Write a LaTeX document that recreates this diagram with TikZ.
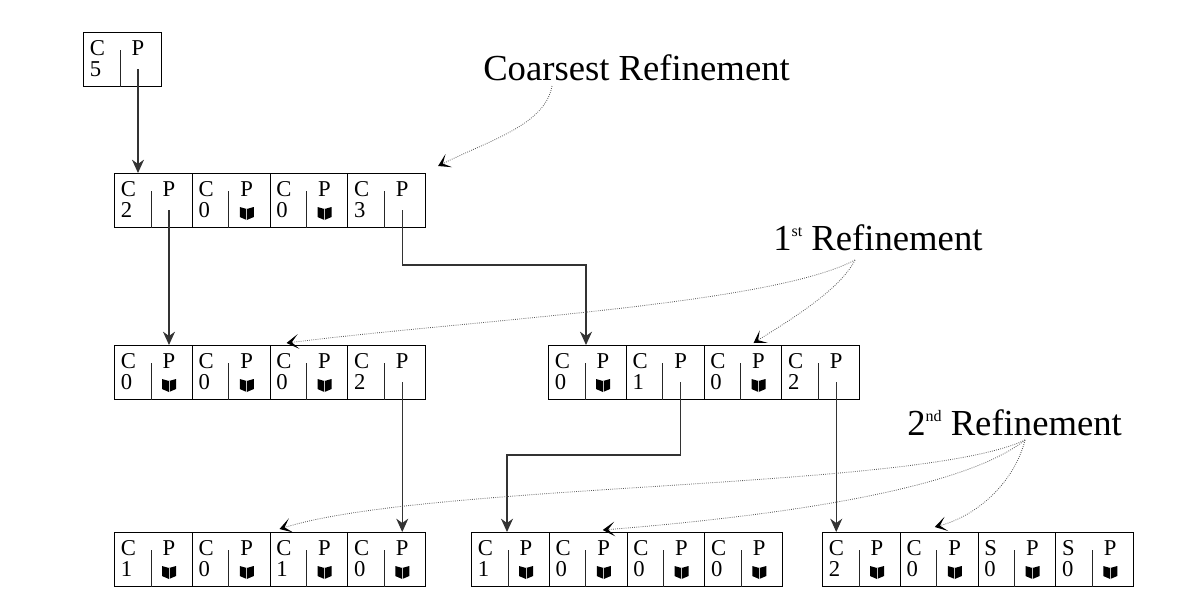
\documentclass[tikz,border=0pt]{standalone}
\usepackage{fontspec}
\setmainfont{Liberation Serif}
\usetikzlibrary{arrows.meta,calc}
\tikzset{
  cellbox/.style={draw=black, line width=0.8pt, minimum width=58.31pt, minimum height=40.5pt, inner sep=0pt, anchor=north west},
  celltxt/.style={font=\fontsize{17}{19}\selectfont, inner sep=0pt, anchor=base west},
  ptxt/.style={font=\fontsize{17}{19}\selectfont, inner sep=0pt, anchor=base},
  divider/.style={line width=0.7pt, draw=black!85},
  pointer/.style={line width=0.8pt, draw=black!80, -{Stealth[length=10pt,width=9pt]}},
  note/.style={densely dotted, line width=0.6pt, draw=black!65, -{Stealth[length=9pt,width=11pt,inset=5pt,line width=0.9pt,color=black]}},
  labeltxt/.style={font=\fontsize{27.5}{32}\selectfont, inner sep=0pt, anchor=base west},
  book/.pic={
    \fill[black] (-7,-6) -- (0,-4) -- (7,-6) -- (7,4) -- (0,7) -- (-7,4) -- cycle;
    \draw[white!55!gray, line width=0.7pt] (0,-4) -- (0,6.5);
  }
}
\newcommand{\recblock}[4]{%
  \foreach [count=\i] \L/\D/\B in {#4} {
    \node[cellbox] (#1-\i) at ({#2+(\i-1)*77.75},#3) {};
    \node[celltxt] (#1-\i-l) at ($(#1-\i.north west)+(6.5,23)$) {\L};
    \node[celltxt] (#1-\i-d) at ($(#1-\i.north west)+(6.5,44)$) {\D};
    \node[ptxt] (#1-\i-p) at ($(#1-\i.north west)+(55,23)$) {P};
    \coordinate (#1-\i-s) at ($(#1-\i.north west)+(55,37)$);
    \draw[divider] ($(#1-\i.north west)+(37,18)$) -- ($(#1-\i.south west)+(37,0)$);
    \ifnum\B=1 \pic at ($(#1-\i.north west)+(55,40)$) {book}; \fi
  }
}
\newcommand{\supx}[1]{\raisebox{10pt}{\fontsize{12}{12}\selectfont #1}}
\begin{document}
\begin{tikzpicture}[x=0.75pt,y=-0.75pt]
  \fill[white] (0,0) rectangle (1198,608);
  \useasboundingbox (0,0) rectangle (1198,608);

  \recblock{top}{83}{32}{C/5/0}
  \recblock{r1}{114}{173}{C/2/0, C/0/1, C/0/1, C/3/0}
  \recblock{r2a}{114}{345}{C/0/1, C/0/1, C/0/1, C/2/0}
  \recblock{r2b}{548}{345}{C/0/1, C/1/0, C/0/1, C/2/0}
  \recblock{r3a}{114}{532}{C/1/1, C/0/1, C/1/1, C/0/1}
  \recblock{r3b}{471}{532}{C/1/1, C/0/1, C/0/1, C/0/1}
  \recblock{r3c}{822}{532}{C/2/1, C/0/1, S/0/1, S/0/1}

  % pointers
  \coordinate (bend1) at (0,265);
  \coordinate (bend2) at (0,455);
  \coordinate (r2b-in) at ($(r2b-1.north west)+(38,0)$);
  \coordinate (r3b-in) at ($(r3b-1.north west)+(36,0)$);
  \draw[pointer] (top-1-s) -- (top-1-s |- r1-1.north);
  \draw[pointer] (r1-1-s) -- (r1-1-s |- r2a-1.north);
  \draw[pointer] (r1-4-s) -- (r1-4-s |- bend1) -| (r2b-in);
  \draw[pointer] (r2a-4-s) -- (r2a-4-s |- r3a-1.north);
  \draw[pointer] (r2b-2-s) -- (r2b-2-s |- bend2) -| (r3b-in);
  \draw[pointer] (r2b-4-s) -- (r2b-4-s |- r3c-1.north);

  % labels
  \node[labeltxt] (coarse) at (483,80) {Coarsest Refinement};
  \node[labeltxt] (first) at (773,250) {1\supx{st} Refinement};
  \node[labeltxt] (second) at (907,435) {2\supx{nd} Refinement};

  \coordinate (cs) at (552,86);
  \coordinate (fs) at (855,260);
  \coordinate (ss) at (1025,440);

  \draw[note] (cs) .. controls (545,125) and (490,140) .. ($(r1-4.north east)+(12,-7)$);
  \draw[note] (fs) .. controls (770,305) and (470,320) .. ($(r2a-3.north west)+(17,-2)$);
  \draw[note] (fs) .. controls (840,290) and (790,320) .. ($(r2b-3.north west)+(50,-2)$);
  \draw[note] (ss) .. controls (920,490) and (430,482) .. ($(r3a-3.north west)+(10,-3)$);
  \draw[note] (ss) .. controls (950,500) and (700,522) .. ($(r3b-2.north west)+(54,-2)$);
  \draw[note] (ss) .. controls (1015,480) and (980,515) .. ($(r3c-2.north west)+(35,-5)$);
\end{tikzpicture}
\end{document}
